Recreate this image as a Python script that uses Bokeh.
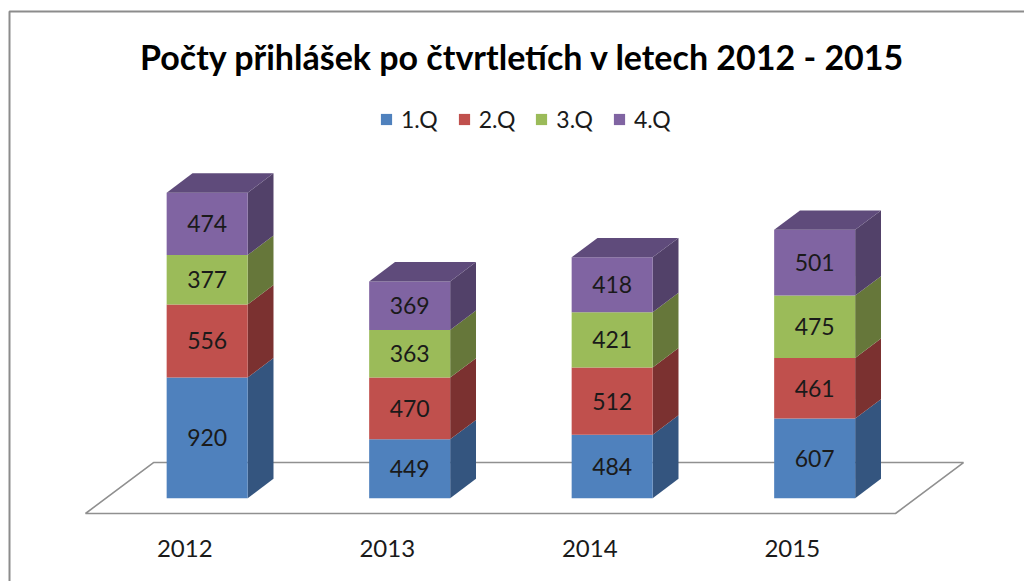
from bokeh.plotting import figure
from bokeh.models import Range1d, ColumnDataSource, Legend, LegendItem
from bokeh.core.properties import value
from bokeh.embed import file_html
from bokeh.resources import INLINE

# ---- data ----
years = ["2012", "2013", "2014", "2015"]
quarters = ["1.Q", "2.Q", "3.Q", "4.Q"]
q1 = [920, 449, 484, 607]
q2 = [556, 470, 512, 461]
q3 = [377, 363, 421, 475]
q4 = [474, 369, 418, 501]
title_text = "Počty přihlášek po čtvrtletích v letech 2012 - 2015"

front_colors = ["#4F81BD", "#C0504D", "#9BBB59", "#8064A2"]
side_colors = ["#34557F", "#7B3130", "#66773A", "#524169"]
top_color = "#5F4B7B"

# ---- projection params (category units / value units) ----
DX = 0.3358   # x shift per unit of depth
DY = 388.0    # y shift per unit of depth
Z_F, Z_B = 0.30, 0.68
HALF_W = 0.20

FONT = "Lato"

p = figure(width=1024, height=581,
           x_range=Range1d(-0.4198, 4.637), y_range=Range1d(-518, 3907),
           output_backend="svg", toolbar_location=None, min_border=0)
p.axis.visible = False
p.grid.visible = False
p.outline_line_color = None
p.background_fill_color = "white"

# chart-area border (top and left edges)
p.line(x=[-0.3753, -0.3753, 4.70], y=[-530, 3823, 3823], line_color="#8C8C8C", line_width=2)

# floor
nyears = len(years)
fx = [0, nyears, nyears + DX, DX]
fy = [0, 0, DY, DY]
p.patch(x=fx, y=fy, fill_color="white", line_color="#909090", line_width=1.6)

series = [q1, q2, q3, q4]
legend_items = []
for k, vals in enumerate(series):
    bottoms = [sum(s[i] for s in series[:k]) for i in range(nyears)]
    tops = [bottoms[i] + vals[i] for i in range(nyears)]
    centers = [i + 0.5 for i in range(nyears)]
    lf = [c - HALF_W + Z_F * DX for c in centers]
    rf = [c + HALF_W + Z_F * DX for c in centers]
    rb = [c + HALF_W + Z_B * DX for c in centers]
    src = ColumnDataSource(dict(
        left=lf, right=rf,
        bottom=[b + Z_F * DY for b in bottoms],
        top=[t + Z_F * DY for t in tops],
        xs=[[rf[i], rb[i], rb[i], rf[i]] for i in range(nyears)],
        ys=[[bottoms[i] + Z_F * DY, bottoms[i] + Z_B * DY,
             tops[i] + Z_B * DY, tops[i] + Z_F * DY] for i in range(nyears)],
        lx=[c + Z_F * DX for c in centers],
        ly=[(b + t) / 2 + Z_F * DY for b, t in zip(bottoms, tops)],
        lab=[str(v) for v in vals],
    ))
    p.patches(xs="xs", ys="ys", source=src, fill_color=side_colors[k], line_color=None)
    r = p.quad(left="left", right="right", bottom="bottom", top="top", source=src,
               fill_color=front_colors[k], line_color=None)
    p.text(x="lx", y="ly", text="lab", source=src, text_font=value(FONT),
           text_font_size="23px", text_color="#1A1A1A",
           text_align="center", text_baseline="middle")
    legend_items.append(LegendItem(label=quarters[k], renderers=[r]))
    if k == len(series) - 1:
        lb = [c - HALF_W + Z_B * DX for c in centers]
        p.patches(xs=[[lf[i], rf[i], rb[i], lb[i]] for i in range(nyears)],
                  ys=[[tops[i] + Z_F * DY, tops[i] + Z_F * DY,
                       tops[i] + Z_B * DY, tops[i] + Z_B * DY] for i in range(nyears)],
                  fill_color=top_color, line_color=None)

# category labels (along the front edge of the floor)
p.text(x=[i + 0.49 for i in range(nyears)], y=[-267] * nyears, text=years,
       text_font=value(FONT), text_font_size="24px", text_color="#1A1A1A",
       text_align="center", text_baseline="middle")

# title
p.text(x=[2.16], y=[3483], text=[title_text], text_font=value(FONT),
       text_font_style="bold", text_font_size="34px", text_color="#000000",
       text_align="center", text_baseline="middle")

legend = Legend(items=legend_items, orientation="horizontal", location=(379, 448),
                glyph_width=14, glyph_height=14, label_standoff=8, spacing=19,
                label_text_font=FONT, label_text_font_size="23px",
                label_text_color="#1A1A1A", border_line_color=None,
                background_fill_alpha=0, padding=0, margin=0,
                label_height=20)
p.add_layout(legend, "center")

open("out.html", "w").write(file_html(p, INLINE))
